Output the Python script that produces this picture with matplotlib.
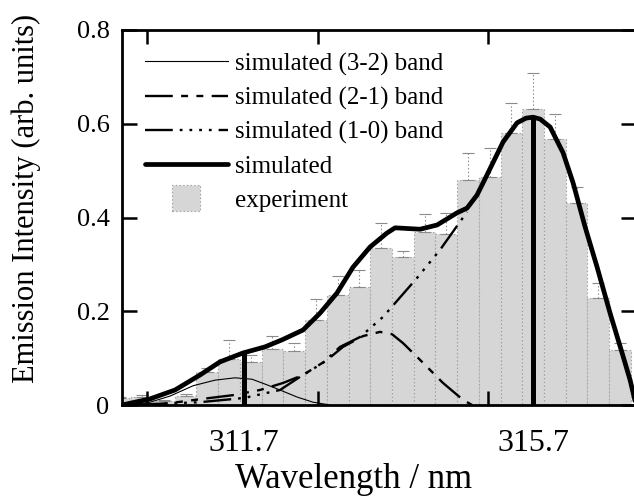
import matplotlib
matplotlib.use('Agg')
import matplotlib.pyplot as plt
from matplotlib.patches import Rectangle
from matplotlib.legend_handler import HandlerPatch

plt.rcParams['font.family'] = ['Liberation Serif', 'DejaVu Serif']
plt.rcParams['lines.scale_dashes'] = False

# ---------------- data ----------------
exp_wl = [310.0, 310.3, 310.6, 310.9, 311.2, 311.5, 311.8, 312.1, 312.4, 312.7,
          313.0, 313.3, 313.6, 313.9, 314.2, 314.5, 314.8, 315.1, 315.4, 315.7,
          316.0, 316.3, 316.6, 316.9]
exp_val = [0.015, 0.018, 0.008, 0.020, 0.070, 0.098, 0.091, 0.120, 0.115, 0.181,
           0.234, 0.251, 0.336, 0.315, 0.370, 0.364, 0.479, 0.487, 0.581, 0.632,
           0.567, 0.431, 0.229, 0.117]
exp_err = [0.003, 0.004, 0.003, 0.004, 0.010, 0.040, 0.015, 0.027, 0.017, 0.045,
           0.041, 0.038, 0.053, 0.013, 0.038, 0.046, 0.059, 0.062, 0.064, 0.076,
           0.053, 0.035, 0.032, 0.015]

tot_wl = [310.022, 310.409, 310.754, 311.099, 311.375, 311.693, 311.997, 312.232,
          312.522, 312.757, 312.991, 313.212, 313.447, 313.682, 313.793, 314.138,
          314.373, 314.649, 314.787, 314.925, 315.063, 315.284, 315.478, 315.602,
          315.699, 315.796, 315.934, 316.113, 316.251, 316.417, 316.583, 316.762,
          316.928, 317.039, 317.12]
tot_val = [0.0, 0.013, 0.032, 0.064, 0.092, 0.111, 0.124, 0.139,
           0.160, 0.196, 0.239, 0.294, 0.337, 0.367, 0.378, 0.375,
           0.384, 0.410, 0.420, 0.448, 0.491, 0.561, 0.602, 0.612,
           0.614, 0.610, 0.593, 0.538, 0.474, 0.380, 0.294, 0.196,
           0.111, 0.053, 0.0]

b32_wl = [310.132, 310.409, 310.685, 311.002, 311.306, 311.583, 311.817, 312.025,
          312.204, 312.439, 312.660, 312.895]
b32_val = [0.0, 0.006, 0.019, 0.041, 0.053, 0.058, 0.055, 0.043,
           0.032, 0.017, 0.006, 0.0]

b21_wl = [310.27, 310.685, 311.237, 311.555, 311.928, 312.246, 312.522, 312.853,
          313.074, 313.350, 313.585, 313.751, 313.903, 314.179, 314.455, 314.731, 314.856]
b21_val = [0.0, 0.004, 0.015, 0.021, 0.032, 0.047, 0.064, 0.096,
           0.124, 0.147, 0.156, 0.151, 0.132, 0.090, 0.047, 0.011, 0.0]

b10_wl = [310.132, 311.099, 311.707, 312.204, 312.480, 312.798, 313.033, 313.309,
          313.627, 314.096, 314.414, 314.787]
b10_val = [0.0, 0.006, 0.015, 0.032, 0.060, 0.090, 0.124, 0.145,
           0.188, 0.271, 0.331, 0.412]

head_wl = [311.7, 315.7]
head_val = [0.111, 0.614]

xtick_vals = [311.7, 315.7]
xtick_labels = ['311.7', '315.7']
xminor_vals = [310.367, 312.729, 315.077]
ytick_vals = [0, 0.2, 0.4, 0.6, 0.8]
ytick_labels = ['0', '0.2', '0.4', '0.6', '0.8']

labels = ['simulated (3-2) band', 'simulated (2-1) band', 'simulated (1-0) band',
          'simulated', 'experiment']

# ---------------- figure ----------------
fig = plt.figure(figsize=(6.34, 5.04), dpi=100)
ax = fig.add_axes([122/634, 99/504, (636-122)/634, (405-30)/504])

ax.bar(exp_wl, exp_val, width=0.3, color='#d6d6d6', edgecolor='#a0a0a0',
       linewidth=0.8, linestyle=':', zorder=1)
eb = ax.errorbar(exp_wl, exp_val, yerr=[[0]*len(exp_err), exp_err], fmt='none',
                 ecolor='#8a8a8a', elinewidth=0.8, capsize=4, capthick=0.8, zorder=1.5)
for c in eb[2]:
    c.set_linestyle(':')

l32, = ax.plot(b32_wl, b32_val, color='black', lw=0.8, zorder=2)
l21, = ax.plot(b21_wl, b21_val, color='black', lw=1.7, zorder=2,
               dashes=[20, 6, 5, 6, 5, 6])
l10, = ax.plot(b10_wl, b10_val, color='black', lw=1.7, zorder=2,
               dashes=[20, 5, 2, 5, 2, 5, 2, 5, 2, 5])
lt, = ax.plot(tot_wl, tot_val, color='black', lw=3.4, zorder=3,
              solid_joinstyle='round', solid_capstyle='round')
ax.vlines(head_wl, 0, head_val, colors='black', lw=3.6, zorder=3)

ax.set_xlim(310.022, 317.12)
ax.set_ylim(0, 0.8)

ax.set_xticks(xtick_vals)
ax.set_xticklabels(xtick_labels)
ax.set_xticks(xminor_vals, minor=True)
ax.tick_params(axis='x', which='major', length=0, labelsize=23, pad=17)
ax.tick_params(axis='x', which='minor', direction='in', length=10, width=1.8,
               top=True, bottom=True)
ax.set_yticks(ytick_vals)
ax.set_yticklabels(ytick_labels)
ax.tick_params(axis='y', which='major', direction='in', length=11, width=1.8,
               left=True, right=True, labelsize=19, pad=9)

for s in ax.spines.values():
    s.set_linewidth(2.0)

ax.set_ylabel('Emission Intensity (arb. units)', fontsize=22)
ax.yaxis.set_label_coords(-0.158, 0.55)
ax.set_xlabel('Wavelength / nm', fontsize=25)
ax.xaxis.set_label_coords(0.451, -0.155)


def make_square(legend, orig_handle, xdescent, ydescent, width, height, fontsize):
    h = height * 1.45
    w = h * 1.1
    return Rectangle((-xdescent + width/2 - w/2, -ydescent + height/2 - h/2), w, h)


exp_handle = Rectangle((0, 0), 1, 1, facecolor='#d6d6d6', edgecolor='#a0a0a0',
                       linewidth=0.8, linestyle=':')
leg = ax.legend([l32, l21, l10, lt, exp_handle], labels, loc='upper left',
                bbox_to_anchor=(0.045, 0.94), frameon=False, fontsize=18,
                handlelength=3.3, handletextpad=0.3, labelspacing=0.45,
                borderaxespad=0, borderpad=0,
                handler_map={exp_handle: HandlerPatch(patch_func=make_square)})

fig.savefig('out.png', dpi=100)
